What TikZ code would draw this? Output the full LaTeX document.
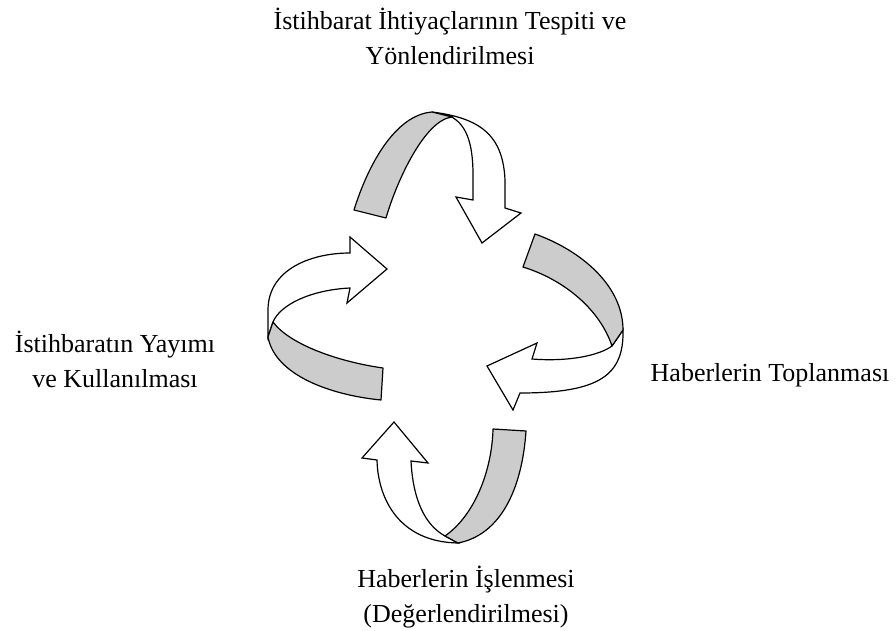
\documentclass[tikz,border=0pt]{standalone}
\usepackage{fontspec}
\setmainfont{Liberation Serif}
\tikzset{
  band/.style={draw,fill=black!20,line width=0.6pt,line join=round},
  back/.style={draw,fill=white,line width=0.6pt},
  stagetext/.style={align=center,inner sep=0pt,font=\fontsize{13}{17.5}\selectfont}
}

\begin{document}
\begin{tikzpicture}[x=0.5pt,y=-0.5pt]
    \useasboundingbox (0,0) rectangle (896,631);

    % top ribbon
    \draw[back] (432,112) .. controls (480,118) and (503,135) .. (505,180) -- (505,208)
      -- (521,213) -- (482,243) -- (456,197) -- (473,200) -- (473,175)
      .. controls (473,140) and (465,125) .. (452,117) -- cycle;
    \draw[band] (354,210) .. controls (368,165) and (395,115) .. (432,112) -- (452,117)
      .. controls (425,120) and (397,180) .. (386,218) -- cycle;

    % right ribbon
    \draw[back] (623,330) .. controls (624,375) and (600,393) .. (520,393)
      -- (513,410) -- (487,366) -- (537,343) -- (532,359)
      .. controls (570,362) and (600,355) .. (612,346) -- cycle;
    \draw[band] (535,234) .. controls (580,250) and (623,285) .. (623,330) -- (612,346)
      .. controls (600,310) and (565,280) .. (523,267) -- cycle;

    % bottom ribbon
    \draw[back] (458,543) .. controls (400,542) and (378,500) .. (377,460)
      -- (362,458) -- (394,422) -- (428,463) -- (411,461)
      .. controls (413,500) and (425,525) .. (445,536) -- cycle;
    \draw[band] (526,431) .. controls (522,490) and (500,535) .. (458,543) -- (445,536)
      .. controls (475,515) and (492,470) .. (493,429) -- cycle;

    % left ribbon
    \draw[back] (268,337) -- (268,310) .. controls (268,270) and (310,253) .. (350,253)
      -- (350,237) -- (387,269) -- (347,303) -- (350,288)
      .. controls (310,290) and (280,305) .. (273,322) -- cycle;
    \draw[band] (383,368) .. controls (340,362) and (290,345) .. (273,322) -- (268,337)
      .. controls (275,375) and (330,395) .. (381,400) -- cycle;

    \path
    (450,36) node[stagetext] (plan) {İstihbarat İhtiyaçlarının Tespiti ve\\Yönlendirilmesi}
    (770,382) node[stagetext,anchor=base] (collect) {Haberlerin Toplanması}
    (466,597) node[stagetext] (process) {Haberlerin İşlenmesi\\(Değerlendirilmesi)}
    (115,359) node[stagetext] (spread) {İstihbaratın Yayımı\\ve Kullanılması}
    ;
\end{tikzpicture}
\end{document}
